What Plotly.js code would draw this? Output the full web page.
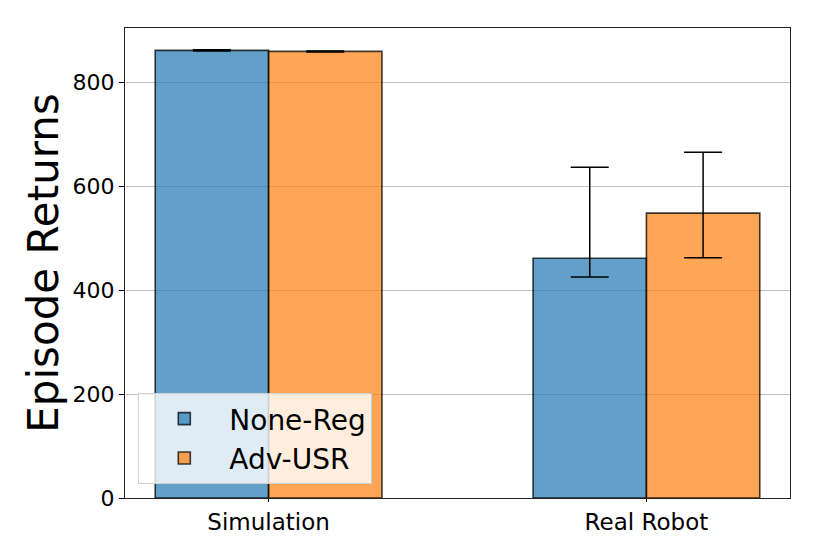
<!DOCTYPE html>
<html>
<head>
<meta charset="utf-8">
<script src="https://cdn.plot.ly/plotly-3.0.1.min.js"></script>
<style>
  html, body { margin: 0; padding: 0; background: #fff; }
  #chart { width: 830px; height: 554px; }
</style>
</head>
<body>
<div id="chart"></div>
<script>
const categories = ['Simulation', 'Real Robot'];
const noneReg = [861, 461];
const noneRegErrUp = [1, 175];
const noneRegErrDown = [1, 36];
const advUsr = [859, 548];
const advUsrErrUp = [1, 117];
const advUsrErrDown = [1, 86];

const xs = categories.map((_, i) => i);

function barTrace(name, vals, up, down, color, offset) {
  return {
    type: 'bar',
    name: name,
    x: xs.map(x => x + offset),
    y: vals,
    width: 0.3,
    marker: { color: color, line: { color: 'rgba(0,0,0,0.75)', width: 1.6 } },
    error_y: {
      type: 'data', symmetric: false, array: up, arrayminus: down,
      color: '#000', thickness: 1.5, width: 19
    }
  };
}

const traces = [
  barTrace('None-Reg', noneReg, noneRegErrUp, noneRegErrDown, 'rgba(31,119,180,0.7)', -0.15),
  barTrace('Adv-USR', advUsr, advUsrErrUp, advUsrErrDown, 'rgba(255,127,14,0.7)', 0.15)
];

Plotly.newPlot('chart', traces, {
  width: 830, height: 554,
  margin: { l: 125, r: 40, t: 28, b: 56 },
  paper_bgcolor: '#fff', plot_bgcolor: '#fff',
  font: { family: 'DejaVu Sans', color: '#000', size: 20 },
  barmode: 'overlay',
  showlegend: true,
  legend: {
    x: 0.02, y: 0.03, xanchor: 'left', yanchor: 'bottom',
    bgcolor: 'rgba(255,255,255,0.8)', bordercolor: '#d0d0d0', borderwidth: 1,
    font: { size: 28 }, itemwidth: 80
  },
  xaxis: {
    range: [-0.38, 1.38],
    tickvals: xs, ticktext: categories,
    ticks: 'outside', ticklen: 3, tickcolor: '#000',
    showgrid: false, zeroline: false,
    showline: true, linecolor: '#222', linewidth: 1.2, mirror: true,
    tickfont: { size: 23 }
  },
  yaxis: {
    range: [0, 904],
    tickvals: [0, 200, 400, 600, 800],
    ticks: 'outside', ticklen: 5, tickcolor: '#000',
    showgrid: true, gridcolor: '#c0c0c0', gridwidth: 1,
    zeroline: false,
    showline: true, linecolor: '#222', linewidth: 1.2, mirror: true,
    tickfont: { size: 22 },
    title: { text: 'Episode Returns', font: { size: 42 }, standoff: 0 }
  }
}, { displayModeBar: false, staticPlot: true });
</script>
</body>
</html>
